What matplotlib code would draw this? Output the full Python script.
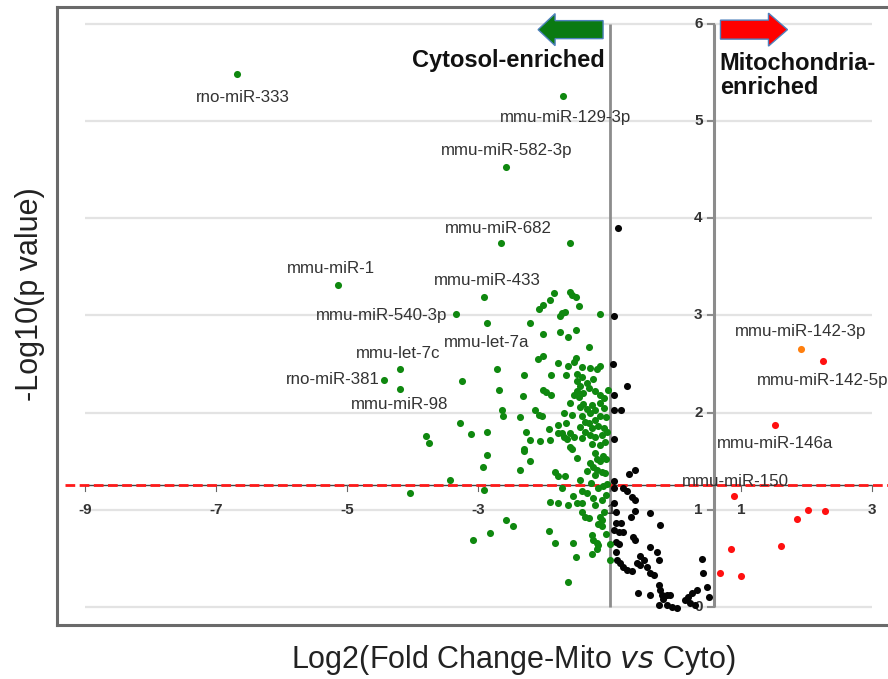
import matplotlib
matplotlib.use("Agg")
import matplotlib.pyplot as plt
from matplotlib.patches import FancyArrow

plt.rcParams['font.family'] = ['Liberation Sans', 'DejaVu Sans']

# ---------------- data ----------------
green_x = [-6.68, -1.71, -2.58, -2.65, -5.14, -2.92, -3.35, -2.87, -4.19, -4.44, -4.19,
           -2.22, -3.25, -2.72, -2.30, -2.69, -2.32, -2.64, -2.62, -2.36, -3.28, -3.11, -2.87,
           -3.80, -3.75, -2.27, -2.31, -2.30, -2.22, -2.87, -2.93, -2.37, -3.44, -4.05, -2.91,
           -2.58, -2.48, -2.82, -3.08, -1.60,
           -1.89, -1.67, -2.01, -1.89, -2.14, -2.08, -2.03, -1.93, -1.78, -1.67, -1.73, -2.21,
           -2.06, -1.91, -1.70, -1.65, -1.58, -1.42, -1.50, -1.83, -1.78, -1.68, -1.45, -1.73,
           -1.56, -1.42, -1.91, -1.78, -1.63, -1.50, -1.22, -1.42, -1.37, -1.14, -1.12, -1.93,
           -1.83, -1.56, -1.27, -1.20, -1.52, -1.27, -1.64, -1.00, -1.00,
           -1.60, -1.27, -1.22, -1.14, -1.07, -1.25, -1.20, -1.12, -1.07, -1.22, -1.04, -1.35,
           -1.42, -1.32, -1.12, -1.25, -1.17, -1.20,
           -1.85, -1.61, -1.58, -1.52, -1.91, -2.02, -2.08, -1.47, -1.68, -1.73, -1.76, -1.15,
           -1.76, -1.52, -2.01, -1.63, -1.32, -2.01, -2.10, -1.79, -1.51, -1.55, -1.63, -1.42,
           -1.30, -1.14, -1.50, -1.42, -1.50, -1.45, -1.50, -1.55, -1.47, -1.40, -1.32, -1.22,
           -1.14, -1.09, -1.02, -1.97, -1.40, -1.45, -1.35, -1.27, -1.22, -1.58, -1.42, -1.30,
           -1.22, -1.14, -1.32, -1.27, -1.17, -1.09, -1.78, -1.60, -1.55, -1.37, -1.30, -1.22,
           -1.12, -1.04,
           -1.10, -1.15, -1.05, -1.20, -1.30, -1.35, -1.10, -1.18, -1.28, -1.05, -1.12, -1.25,
           -1.08, -1.18, -1.05, -1.35, -1.25, -1.20, -1.08, -1.05, -1.15, -1.38, -1.45, -1.60,
           -1.70]
green_y = [5.48, 5.26, 4.53, 3.74, 3.31, 3.19, 3.01, 2.92, 2.45, 2.34, 2.24,
           2.92, 2.32, 2.45, 2.39, 2.23, 2.17, 2.03, 1.97, 1.95, 1.89, 1.78, 1.80,
           1.76, 1.69, 1.80, 1.63, 1.60, 1.50, 1.56, 1.44, 1.41, 1.31, 1.17, 1.20,
           0.90, 0.83, 0.76, 0.69, 3.75,
           2.39, 2.39, 2.23, 2.18, 2.03, 1.98, 1.96, 1.83, 1.87, 1.89, 1.79, 1.72,
           1.71, 1.72, 1.75, 1.73, 1.63, 1.74, 1.53, 1.39, 1.35, 1.35, 1.31, 1.22,
           1.14, 1.19, 1.08, 1.07, 1.05, 1.07, 1.05, 0.98, 0.93, 0.93, 0.83, 0.78,
           0.66, 0.66, 0.74, 0.66, 0.51, 0.55, 0.26, 0.65, 0.48,
           1.65, 1.68, 1.58, 1.67, 1.70, 1.44, 1.41, 1.39, 1.38, 1.36, 1.27, 1.17,
           1.07, 0.92, 0.90, 0.69, 0.64, 0.60,
           3.23, 3.24, 3.21, 3.19, 3.16, 3.11, 3.07, 3.10, 3.04, 3.02, 2.99, 3.01,
           2.83, 2.85, 2.81, 2.78, 2.68, 2.58, 2.55, 2.51, 2.56, 2.52, 2.48, 2.47,
           2.46, 2.48, 2.40, 2.37, 2.32, 2.27, 2.22, 2.18, 2.16, 2.20, 2.25, 2.22,
           2.18, 2.15, 2.23, 2.21, 2.09, 2.06, 2.04, 2.08, 2.03, 1.98, 1.96, 2.00,
           1.92, 1.96, 1.89, 1.84, 1.86, 1.84, 1.79, 1.79, 1.75, 1.80, 1.77, 1.75,
           1.77, 1.80,
           1.55, 1.50, 1.52, 1.52, 1.48, 1.40, 1.25, 1.22, 1.28, 1.15, 1.10, 1.12,
           0.98, 0.85, 0.75, 2.30, 2.35, 2.45, 2.05, 1.95, 2.10, 1.90, 1.85, 2.10,
           2.00]

black_x = [-0.88, -0.94, -0.95, -0.73, -0.94, -0.94, -0.83, -0.94, -0.70, -0.61, -0.93,
           -0.94, -0.79, -0.74, -0.66, -0.62, -0.94, -0.61, -0.39, -0.91, -0.68, -0.23,
           -0.91, -0.83, -0.94, -0.86, -0.79, -0.64, -0.61, -0.91, -0.86, -0.38, -0.28,
           -0.25, -0.91, -0.89, -0.53, -0.48, -0.84, -0.79, -0.58, -0.53, -0.43, -0.74,
           -0.66, -0.38, -0.33, 0.41, 0.43, 0.48, 0.51, 0.33, 0.25, 0.20, 0.23, 0.15, 0.30,
           -0.25, -0.23, -0.20, -0.18, -0.13, -0.08, -0.25, -0.13, -0.05, 0.03, -0.57, -0.38]
black_y = [3.90, 2.99, 2.50, 2.27, 2.18, 2.03, 2.03, 1.73, 1.37, 1.41, 1.30,
           1.22, 1.22, 1.19, 1.13, 1.10, 1.07, 0.99, 0.97, 0.98, 0.93, 0.84,
           0.86, 0.86, 0.79, 0.77, 0.77, 0.72, 0.69, 0.67, 0.65, 0.62, 0.57,
           0.48, 0.57, 0.48, 0.52, 0.48, 0.45, 0.41, 0.45, 0.43, 0.41, 0.38,
           0.37, 0.35, 0.33, 0.49, 0.35, 0.21, 0.10, 0.17, 0.14, 0.10, 0.04, 0.07, 0.02,
           0.23, 0.17, 0.12, 0.08, 0.12, 0.12, 0.02, 0.02, 0.00, -0.01, 0.14, 0.12]

red_x = [0.90, 1.52, 2.26, 2.02, 2.29, 1.85, 1.62, 0.85, 0.69, 1.00]
red_y = [1.14, 1.87, 2.53, 1.00, 0.99, 0.91, 0.63, 0.60, 0.35, 0.32]

orange_x = [1.92]
orange_y = [2.65]

label_names = ['rno-miR-333', 'mmu-miR-129-3p', 'mmu-miR-582-3p', 'mmu-miR-682',
               'mmu-miR-1', 'mmu-miR-433', 'mmu-miR-540-3p', 'mmu-let-7a', 'mmu-let-7c',
               'rno-miR-381', 'mmu-miR-98', 'mmu-miR-142-3p', 'mmu-miR-142-5p',
               'mmu-miR-146a', 'mmu-miR-150']
label_x = [-6.68, -1.71, -2.58, -2.65, -5.14, -2.92, -3.35, -2.87, -4.19, -4.44, -4.19,
           1.92, 2.26, 1.52, 0.90]
label_y = [5.48, 5.26, 4.53, 3.74, 3.31, 3.19, 3.01, 2.92, 2.45, 2.34, 2.24,
           2.65, 2.53, 1.87, 1.14]

x_ticks = [-9, -7, -5, -3, -1, 1, 3]
y_ticks = [0, 1, 2, 3, 4, 5, 6]

fc_low = -1.0
fc_high = 0.585
p_cut = 1.26

# ---------------- styling / layout ----------------
label_offsets = [(6, -23), (2, -22), (1, 16), (-3, 15), (-7, 17), (4, 16), (-74, -1),
                 (0, -19), (-2, 15), (-51, 0), (-1, -15), (-1, 18), (-67, -19),
                 (0, -18), (1, 15)]
label_ha = ['center'] * 12 + ['left', 'center', 'center']

W, H = 888, 679
fig = plt.figure(figsize=(W / 100, H / 100), dpi=100)
fig.patch.set_facecolor('white')

# axes covering the chart frame (px 57..897 x, 7..625 y)
ax = fig.add_axes([57 / W, (H - 625) / H, 840 / W, 618 / H])
x_per_px = 1 / 65.58
y_per_px = 1 / 97.2
ax.set_xlim(-9 - (85 - 57) * x_per_px, -9 + (897 - 85) * x_per_px)
ax.set_ylim(0 - (625 - 607) * y_per_px, 0 + (607 - 7) * y_per_px)
ax.set_xticks([])
ax.set_yticks([])
for s in ax.spines.values():
    s.set_color('#6a6a6a')
    s.set_linewidth(2.2)

# gridlines
ax.hlines(y_ticks, -9, 3, colors='#e3e3e3', linewidth=1.6, zorder=0)

# vertical threshold lines
ax.vlines([fc_low], 0.0, 6.0, colors='#8c8c8c', linewidth=2.0, zorder=1)
ax.vlines([fc_high], 0.0, 6.0, colors='#8c8c8c', linewidth=2.2, zorder=1)
# y-axis ticks and labels
for t in y_ticks:
    ax.plot([fc_high - 6 * x_per_px, fc_high], [t, t], color='#8c8c8c', lw=1.5, zorder=1)
    ax.text(fc_high - 11 * x_per_px, t, str(t), ha='right', va='center',
            fontsize=11, fontweight='bold', color='#333333')

# x axis at p cutoff
ax.hlines([p_cut], -9, 3, colors='#444444', linewidth=1.0, zorder=1)
for t in x_ticks:
    ax.plot([t, t], [p_cut, p_cut - 6 * y_per_px], color='#666666', lw=0.8, zorder=1)
    ax.text(t, 1.0, str(t), ha='center', va='center', fontsize=11,
            fontweight='bold', color='#333333')

# red dashed significance line
ax.plot([-9.3, 4.0], [p_cut, p_cut], color='#ff1a1a', lw=2.0,
        linestyle=(0, (3.5, 1.6)), zorder=2)

# points
ax.scatter(black_x, black_y, s=26, color='#050505', linewidths=0, zorder=3)
ax.scatter(green_x, green_y, s=26, color='#0f880f', linewidths=0, zorder=3)
ax.scatter(red_x, red_y, s=26, color='#ff1010', linewidths=0, zorder=3)
ax.scatter(orange_x, orange_y, s=26, color='#ff7f0e', linewidths=0, zorder=3)

# labels
for name, lx, ly, off, ha in zip(label_names, label_x, label_y, label_offsets, label_ha):
    ax.annotate(name, (lx, ly), xytext=off, textcoords='offset pixels',
                ha=ha, va='center', fontsize=12.2, color='#333333', zorder=4)

# arrows and region titles
ax.add_patch(FancyArrow(-1.10, 5.94, -(603 - 538) * x_per_px, 0, width=18 * y_per_px,
                        head_width=32 * y_per_px, head_length=17 * x_per_px,
                        length_includes_head=True, facecolor='#0a7a12',
                        edgecolor='#4f81bd', linewidth=1.0, zorder=5))
ax.add_patch(FancyArrow(0.69, 5.94, (787 - 720) * x_per_px, 0, width=19 * y_per_px,
                        head_width=33 * y_per_px, head_length=19 * x_per_px,
                        length_includes_head=True, facecolor='#ff0000',
                        edgecolor='#4f81bd', linewidth=1.0, zorder=5))
ax.text(-1.07, 5.62, 'Cytosol-enriched', ha='right', va='center', fontsize=17,
        fontweight='bold', color='#111111')
ax.text(0.68, 5.47, 'Mitochondria-\nenriched', ha='left', va='center', fontsize=17,
        fontweight='bold', color='#111111', linespacing=1.05)

# axis labels
fig.text(30 / W, 1 - 294 / H, '-Log10(p value)', rotation=90, ha='center', va='center',
         fontsize=22, color='#222222')
fig.text(513 / W, 1 - 660 / H, 'Log2(Fold Change-Mito $\\it{vs}$ Cyto)', ha='center',
         va='center', fontsize=22, color='#222222')

fig.savefig('out.png', dpi=100, facecolor='white')
